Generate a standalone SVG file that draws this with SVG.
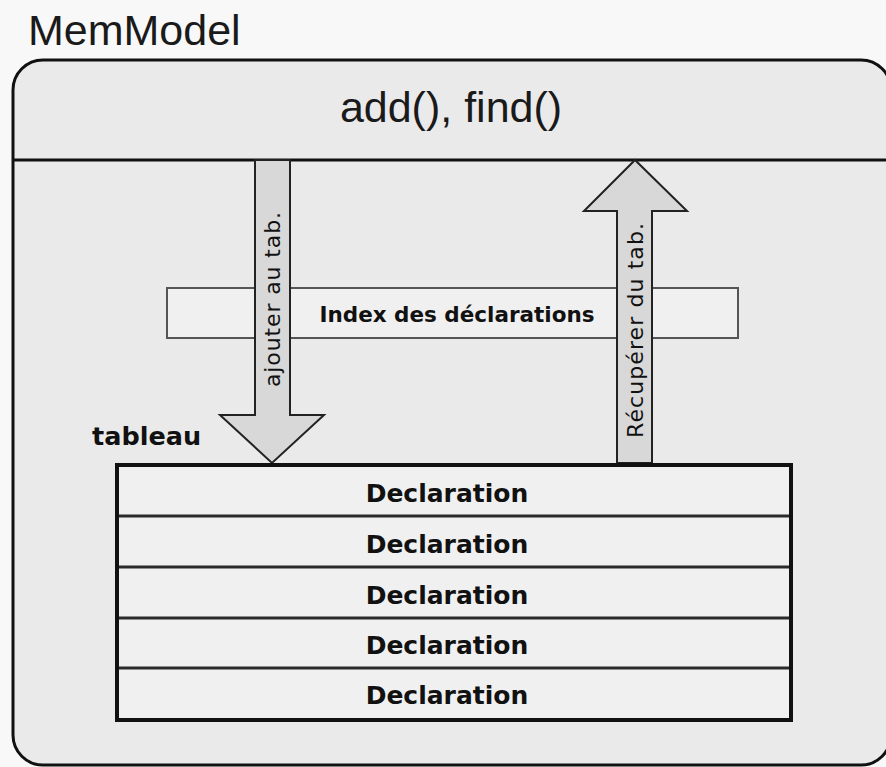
<svg xmlns="http://www.w3.org/2000/svg" width="886" height="767" viewBox="0 0 886 767">
  <style>
    .title { font-family: "Liberation Sans", Arial, sans-serif; font-size: 43px; fill: #1a1a1a; }
    .bold { font-family: "DejaVu Sans", Verdana, sans-serif; font-weight: bold; fill: #111; }
    .rot { font-family: "DejaVu Sans", Verdana, sans-serif; font-size: 22px; fill: #111; }
    .cell { fill: #f0f0f0; stroke: none; }
    .rowline { stroke: #2a2a2a; stroke-width: 3; }
    .arrow { fill: #d8d8d8; stroke: #222; stroke-width: 2; stroke-linejoin: miter; }
  </style>

  <rect width="886" height="767" fill="#f8f8f8"/>

  <text class="title" x="28" y="45">MemModel</text>

  <!-- MemModel container with its method header -->
  <g id="memmodel">
    <rect x="13" y="60" width="878" height="705" rx="30" ry="30" fill="#eaeaea" stroke="#111" stroke-width="3"/>
    <line x1="13" y1="160" x2="886" y2="160" stroke="#111" stroke-width="3"/>
    <text class="title" x="451" y="122" text-anchor="middle">add(), find()</text>
  </g>

  <!-- declaration index -->
  <g id="index">
    <rect x="167" y="288" width="571" height="50" fill="#f0f0f0" stroke="#555" stroke-width="2"/>
    <text class="bold" x="457" y="322" font-size="21.5" text-anchor="middle">Index des déclarations</text>
  </g>

  <!-- block arrows between header and table -->
  <g id="connectors">
    <g id="add-arrow">
      <polygon class="arrow" points="255,160 290,160 290,415 324,415 272,463 220,415 255,415"/>
      <text class="rot" transform="translate(280,387) rotate(-90)" textLength="175" lengthAdjust="spacing">ajouter au tab.</text>
    </g>
    <g id="find-arrow">
      <polygon class="arrow" points="617,463 617,211 584,211 635,160 687,211 652,211 652,463"/>
      <text class="rot" transform="translate(643,438) rotate(-90)" textLength="215" lengthAdjust="spacing">Récupérer du tab.</text>
    </g>
  </g>

  <!-- declaration table -->
  <g id="tableau">
    <text class="bold" x="92" y="445" font-size="25.5">tableau</text>
    <rect class="cell" x="117" y="465" width="674" height="255"/>
    <line class="rowline" x1="117" y1="516" x2="791" y2="516"/>
    <line class="rowline" x1="117" y1="567" x2="791" y2="567"/>
    <line class="rowline" x1="117" y1="618" x2="791" y2="618"/>
    <line class="rowline" x1="117" y1="668" x2="791" y2="668"/>
    <rect x="117" y="465" width="674" height="255" fill="none" stroke="#111" stroke-width="4"/>
    <g id="rows" font-size="25" text-anchor="middle">
      <text class="bold" x="447" y="502">Declaration</text>
      <text class="bold" x="447" y="553">Declaration</text>
      <text class="bold" x="447" y="604">Declaration</text>
      <text class="bold" x="447" y="654">Declaration</text>
      <text class="bold" x="447" y="704">Declaration</text>
    </g>
  </g>
</svg>
